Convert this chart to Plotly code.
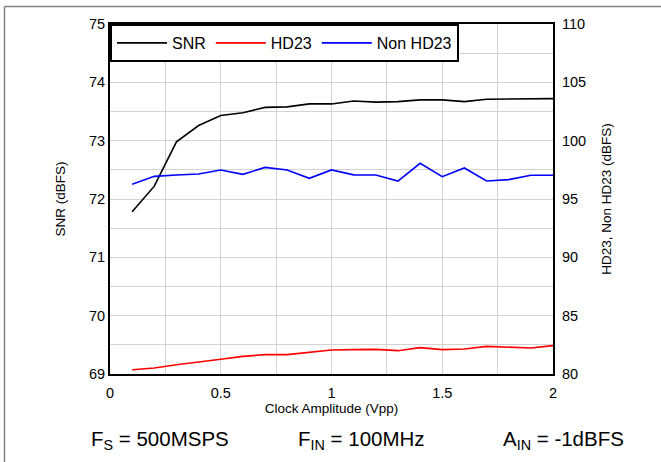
import plotly.graph_objects as go

clock_vpp = [0.1, 0.2, 0.3, 0.4, 0.5, 0.6, 0.7, 0.8, 0.9, 1.0,
             1.1, 1.2, 1.3, 1.4, 1.5, 1.6, 1.7, 1.8, 1.9, 2.0]
snr = [71.78, 72.22, 72.98, 73.26, 73.43, 73.48, 73.57, 73.58, 73.63, 73.63,
       73.68, 73.66, 73.67, 73.70, 73.70, 73.67, 73.71, 73.71, 73.72, 73.72]
hd23 = [80.37, 80.51, 80.80, 81.00, 81.26, 81.51, 81.66, 81.66, 81.86, 82.06,
        82.09, 82.11, 82.00, 82.26, 82.09, 82.14, 82.37, 82.31, 82.23, 82.43]
non_hd23 = [96.26, 96.94, 97.06, 97.14, 97.49, 97.11, 97.71, 97.49, 96.77, 97.49,
            97.07, 97.06, 96.54, 98.06, 96.91, 97.66, 96.54, 96.66, 97.03, 97.03]

FONT = "Liberation Sans, Arial, sans-serif"
GRID = "#d3d3d3"

fig = go.Figure()
fig.add_trace(go.Scatter(x=clock_vpp, y=snr, name="SNR", mode="lines",
                         line=dict(color="black", width=1.6)))
fig.add_trace(go.Scatter(x=clock_vpp, y=hd23, name="HD23", mode="lines",
                         line=dict(color="#ff0000", width=1.6), yaxis="y2"))
fig.add_trace(go.Scatter(x=clock_vpp, y=non_hd23, name="Non HD23", mode="lines",
                         line=dict(color="#0000ff", width=1.6), yaxis="y2"))

W, H = 661, 462
L, R, T, B = 110, 108, 24, 88
pw, ph = W - L - R, H - T - B

fig.update_layout(
    width=W, height=H,
    margin=dict(l=L, r=R, t=T, b=B),
    paper_bgcolor="white", plot_bgcolor="white",
    font=dict(family=FONT, color="black", size=14),
    showlegend=True,
    legend=dict(orientation="h", x=0, y=1, xanchor="left", yanchor="top",
                bgcolor="white", bordercolor="black", borderwidth=2,
                itemwidth=50,
                font=dict(size=16, family=FONT), tracegroupgap=0),
    xaxis=dict(range=[0, 2], dtick=0.5, tick0=0, showgrid=True, gridcolor=GRID,
               minor=dict(dtick=0.25, showgrid=True, gridcolor=GRID),
               showline=True, linecolor="black", linewidth=2, mirror=True,
               zeroline=False, ticks="", tickfont=dict(size=14.5),
               ticklabelstandoff=5,
               title=dict(text="Clock Amplitude (Vpp)", font=dict(size=13.5), standoff=2)),
    yaxis=dict(range=[69, 75], dtick=1, showgrid=True, gridcolor=GRID,
               minor=dict(dtick=0.5, showgrid=True, gridcolor=GRID),
               showline=True, linecolor="black", linewidth=2,
               zeroline=False, ticks="", tickfont=dict(size=14.5),
               title=dict(text="SNR (dBFS)", font=dict(size=13.5), standoff=20)),
    yaxis2=dict(range=[80, 110], dtick=5, overlaying="y", side="right",
                showgrid=False, showline=True, linecolor="black", linewidth=2,
                zeroline=False, ticks="", tickfont=dict(size=14.5),
                ticklabelstandoff=4,
                title=dict(text="HD23, Non HD23 (dBFS)", font=dict(size=13.5), standoff=16)),
)

def px_x(p):
    return (p - L) / pw

def px_y(p):
    return (H - B - p) / ph

# outer frame (gray) on left and top
fig.add_shape(type="line", xref="paper", yref="paper",
              x0=px_x(4.5), x1=px_x(4.5), y0=px_y(6.5), y1=px_y(470),
              line=dict(color="#808080", width=1.5))
fig.add_shape(type="line", xref="paper", yref="paper",
              x0=px_x(4.5), x1=px_x(670), y0=px_y(6.5), y1=px_y(6.5),
              line=dict(color="#808080", width=1.5))

ann_y = px_y(440)
for txt, cx in [("F<sub>S</sub> = 500MSPS", 160),
                ("F<sub>IN</sub> = 100MHz", 361),
                ("A<sub>IN</sub> = -1dBFS", 563)]:
    fig.add_annotation(text=txt, xref="paper", yref="paper", x=px_x(cx), y=ann_y,
                       showarrow=False, xanchor="center", yanchor="middle",
                       font=dict(size=20.5, family=FONT))

fig.write_html("out.html", config={"displayModeBar": False},
               post_script="document.body.style.margin='0';document.body.style.overflow='hidden';")
